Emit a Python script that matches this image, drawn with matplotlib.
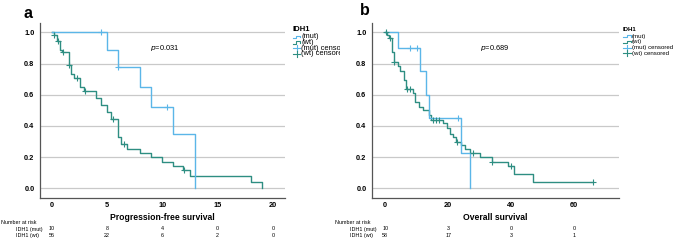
import matplotlib
matplotlib.use("Agg")
import matplotlib.pyplot as plt
from matplotlib.transforms import Bbox, TransformedBbox

plt.rcParams['font.family'] = ['Liberation Sans', 'DejaVu Sans']

# ---------------- data ----------------
# Panel a: progression-free survival
a_mut_t = [0, 5, 6, 8, 9, 11, 13]
a_mut_s = [1.0, 0.889, 0.778, 0.648, 0.519, 0.346, 0.0]
a_mut_ct = [4.5, 6.0, 10.4]
a_mut_cs = [1.0, 0.778, 0.519]

a_wt_t = [0, 0.2, 0.45, 0.75, 0.95, 1.6, 1.75, 2.0, 2.6, 2.95, 4.0, 4.5, 5.0,
          5.4, 6.0, 6.3, 6.8, 8.0, 9.0, 10.0, 11.0, 11.9, 12.5, 18.0, 19.0]
a_wt_s = [1.0, 0.982, 0.946, 0.890, 0.871, 0.793, 0.733, 0.710, 0.648, 0.627,
          0.580, 0.535, 0.490, 0.445, 0.331, 0.284, 0.252, 0.226, 0.204, 0.167,
          0.143, 0.115, 0.079, 0.038, 0.0]
a_wt_ct = [0.25, 0.55, 1.0, 1.6, 2.3, 3.0, 5.5, 6.5, 12.0]
a_wt_cs = [0.982, 0.946, 0.871, 0.793, 0.710, 0.627, 0.445, 0.284, 0.115]

# Panel b: overall survival
b_mut_t = [0, 4, 11, 13, 14, 24, 27]
b_mut_s = [1.0, 0.9, 0.75, 0.60, 0.45, 0.225, 0.0]
b_mut_ct = [8.0, 10.0, 23.0]
b_mut_cs = [0.9, 0.9, 0.45]

b_wt_t = [0, 0.6, 1.2, 2.0, 2.8, 4.0, 4.8, 5.8, 6.6, 8.8, 9.6, 10.6, 12.0, 13.8,
          14.5, 18.2, 19.6, 20.6, 21.5, 22.4, 24.2, 25.3, 27.0, 30.0, 34.0,
          39.0, 41.0, 47.0, 66.0]
b_wt_s = [1.0, 0.982, 0.964, 0.877, 0.807, 0.786, 0.750, 0.694, 0.635, 0.611,
          0.556, 0.523, 0.500, 0.472, 0.440, 0.417, 0.385, 0.350, 0.326, 0.300,
          0.275, 0.250, 0.225, 0.200, 0.170, 0.146, 0.090, 0.043, 0.043]
b_wt_ct = [0.1, 1.5, 2.9, 7.0, 8.0, 15.2, 16.1, 17.0, 22.8, 28.0, 34.0, 40.0, 66.0]
b_wt_cs = [1.0, 0.964, 0.807, 0.635, 0.635, 0.440, 0.440, 0.440, 0.300, 0.225,
           0.170, 0.146, 0.043]

a_ticks = [0, 5, 10, 15, 20]
a_risk_mut = ["10", "8", "4", "0", "0"]
a_risk_wt = ["56", "22", "6", "2", "0"]
b_ticks = [0, 20, 40, 60]
b_risk_mut = ["10", "3", "0", "0"]
b_risk_wt = ["58", "17", "3", "1"]

yticks = [0.0, 0.2, 0.4, 0.6, 0.8, 1.0]
ytick_labels = ["0.0", "0.2", "0.4", "0.6", "0.8", "1.0"]

C_MUT = "#5BB6E8"
C_WT = "#2E8E82"
W, H = 677, 241

fig = plt.figure(figsize=(W / 100, H / 100), dpi=100)


def fx(px):
    return px / W


def fy(py):
    return 1 - py / H


def panel(rect, xlim, ticks, mut_t, mut_s, mut_ct, mut_cs, wt_t, wt_s, wt_ct,
          wt_cs, ptext, pxy, xlabel):
    l, r, t, b = rect
    ax = fig.add_axes([fx(l), fy(b), fx(r - l), fy(t) - fy(b)])
    ax.set_xlim(*xlim)
    ax.set_ylim(-0.062, 1.06)
    for yv in yticks:
        ax.axhline(yv, color="#c9c9c9", lw=0.9, zorder=0)
    ax.step(wt_t, wt_s, where="post", color=C_WT, lw=1.0, zorder=3)
    ax.step(mut_t, mut_s, where="post", color=C_MUT, lw=1.0, zorder=4)
    ax.plot(wt_ct, wt_cs, ls="none", marker="+", ms=4, mew=0.8, color=C_WT, zorder=5)
    ax.plot(mut_ct, mut_cs, ls="none", marker="+", ms=4, mew=0.8, color=C_MUT, zorder=5)
    for s in ["top", "right"]:
        ax.spines[s].set_visible(False)
    for s in ["left", "bottom"]:
        ax.spines[s].set_color("#555555")
        ax.spines[s].set_linewidth(0.9)
    ax.set_xticks(ticks)
    ax.set_xticklabels([str(v) for v in ticks], fontsize=5.3, fontweight="bold")
    ax.set_yticks(yticks)
    ax.set_yticklabels(ytick_labels, fontsize=5.3, fontweight="bold")
    ax.tick_params(axis="x", length=0, pad=3)
    ax.tick_params(axis="y", length=0, pad=4)
    ax.text(pxy[0], pxy[1], r"$\it{p}$" + ptext, fontsize=5.3, va="center",
            ha="left")
    ax.set_xlabel(xlabel, fontsize=6.2, fontweight="bold", labelpad=2.5)
    return ax


axa = panel((40, 285, 23, 198), (-1.06, 21.1), a_ticks, a_mut_t, a_mut_s,
            a_mut_ct, a_mut_cs, a_wt_t, a_wt_s, a_wt_ct, a_wt_cs, "=0.031",
            (8.9, 0.90), "Progression-free survival")
axb = panel((372, 618.7, 23, 198), (-4.2, 74.1), b_ticks, b_mut_t, b_mut_s,
            b_mut_ct, b_mut_cs, b_wt_t, b_wt_s, b_wt_ct, b_wt_cs, "=0.689",
            (30.2, 0.90), "Overall survival")

fig.text(fx(24), fy(17.5), "a", fontsize=11.5, fontweight="bold", ha="left",
         va="baseline")
fig.text(fx(359.5), fy(15), "b", fontsize=11.5, fontweight="bold", ha="left",
         va="baseline")

clip_a = TransformedBbox(Bbox([[0, 0], [340 / W, 1]]), fig.transFigure)


def legend(x0, rows_y, title_y, fs_title, fs_item, icon_w, clip=None):
    arts = []
    arts.append(fig.text(fx(x0), fy(title_y), "IDH1", fontsize=fs_title,
                         fontweight="bold", ha="left", va="center"))
    labels = ["(mut)", "(wt)", "(mut) censored", "(wt) censored"]
    cols = [C_MUT, C_WT, C_MUT, C_WT]
    for i, (lab, c, y) in enumerate(zip(labels, cols, rows_y)):
        ix0, ix1 = x0 + 0.5, x0 + icon_w
        if i < 2:
            xs = [ix0, ix0 + icon_w * 0.45, ix0 + icon_w * 0.45, ix1, ix1]
            ys = [y + 1.2, y + 1.2, y - 1.2, y - 1.2, y + 0.3]
            ln = fig.add_artist(plt.Line2D([fx(v) for v in xs], [fy(v) for v in ys],
                                           transform=fig.transFigure, color=c, lw=0.8))
        else:
            ln = fig.add_artist(plt.Line2D([fx(ix0), fx(ix1)], [fy(y), fy(y)],
                                           transform=fig.transFigure, color=c, lw=0.8))
            ln2 = fig.add_artist(plt.Line2D([fx((ix0 + ix1) / 2)] * 2,
                                            [fy(y - 3), fy(y + 3)],
                                            transform=fig.transFigure, color=c, lw=0.8))
            arts.append(ln2)
        arts.append(ln)
        arts.append(fig.text(fx(x0 + icon_w + 1), fy(y), lab, fontsize=fs_item,
                             ha="left", va="center"))
    if clip is not None:
        for a in arts:
            a.set_clip_on(True)
            a.set_clip_box(clip)


legend(292.5, [37.0, 42.5, 48.3, 53.8], 29.5, 5.6, 5.4, 7.5, clip=clip_a)
legend(622.5, [36.2, 41.8, 47.6, 53.2], 29.5, 4.4, 4.4, 8.0)


def risk_table(ax, x_left, label_x, ticks, mut, wt):
    fig.text(fx(x_left), fy(222), "Number at risk", fontsize=3.9, ha="left",
             va="center")
    fig.text(fx(label_x), fy(229), "IDH1 (mut)", fontsize=3.9, ha="left",
             va="center")
    fig.text(fx(label_x), fy(235.2), "IDH1 (wt)", fontsize=3.9, ha="left",
             va="center")
    for tk, m, w in zip(ticks, mut, wt):
        xd = ax.transData.transform((tk, 0))[0]
        xf = fig.transFigure.inverted().transform((xd, 0))[0]
        fig.text(xf, fy(229), m, fontsize=3.9, ha="center", va="center")
        fig.text(xf, fy(235.2), w, fontsize=3.9, ha="center", va="center")


risk_table(axa, 1, 16, a_ticks, a_risk_mut, a_risk_wt)
risk_table(axb, 335, 350.5, b_ticks, b_risk_mut, b_risk_wt)

fig.savefig("out.png", dpi=100)
